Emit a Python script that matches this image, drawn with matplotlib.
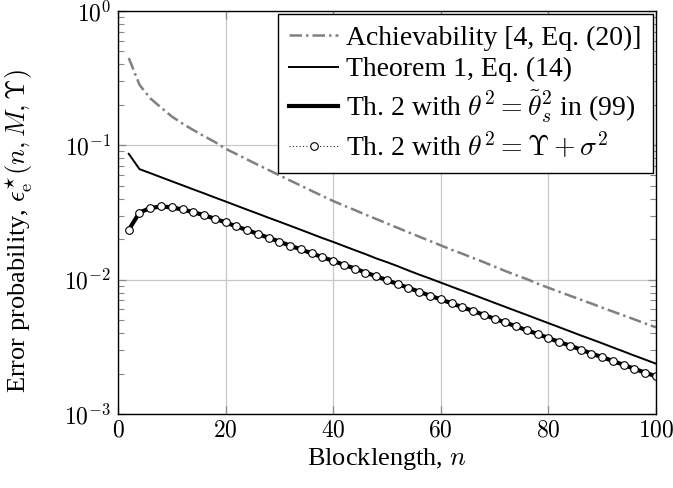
#!/usr/bin/env python3
# -*- coding: utf-8 -*-
"""Error probability vs. blocklength (log scale)."""

import math
import matplotlib
matplotlib.use("Agg")
import matplotlib.pyplot as plt
from matplotlib.ticker import FixedLocator, FuncFormatter, LogLocator, NullFormatter

plt.rcParams['font.family'] = ['Liberation Serif', 'DejaVu Serif']
plt.rcParams['mathtext.fontset'] = 'cm'

# blocklength n = 2, 4, ..., 100
n = [2, 4, 6, 8, 10, 12, 14, 16, 18, 20,
     22, 24, 26, 28, 30, 32, 34, 36, 38, 40,
     42, 44, 46, 48, 50, 52, 54, 56, 58, 60,
     62, 64, 66, 68, 70, 72, 74, 76, 78, 80,
     82, 84, 86, 88, 90, 92, 94, 96, 98, 100]

achievability = [0.447, 0.282, 0.224, 0.191, 0.164, 0.145, 0.130, 0.117, 0.106, 0.0944,
                 0.0861, 0.0785, 0.0716, 0.0655, 0.0598, 0.0547, 0.0501, 0.0458, 0.0420, 0.0385,
                 0.0356, 0.0330, 0.0305, 0.0283, 0.0262, 0.0243, 0.0225, 0.0209, 0.0194, 0.0180,
                 0.0167, 0.0156, 0.0145, 0.0135, 0.0125, 0.0116, 0.0108, 0.0101, 0.00935, 0.00871,
                 0.00813, 0.00760, 0.00710, 0.00664, 0.00619, 0.00579, 0.00541, 0.00506, 0.00472, 0.00442]

theorem1 = [0.0865, 0.0665, 0.0621, 0.0579, 0.0540, 0.0504, 0.0470, 0.0439, 0.0409, 0.0382,
            0.0356, 0.0332, 0.0310, 0.0289, 0.0270, 0.0252, 0.0235, 0.0219, 0.0204, 0.0191,
            0.0178, 0.0166, 0.0155, 0.0144, 0.0135, 0.0126, 0.0117, 0.0109, 0.0102, 0.00951,
            0.00887, 0.00828, 0.00773, 0.00721, 0.00672, 0.00627, 0.00585, 0.00546, 0.00509, 0.00475,
            0.00443, 0.00413, 0.00385, 0.00360, 0.00336, 0.00313, 0.00292, 0.00272, 0.00254, 0.00237]

th2_tilde = [0.0235, 0.0316, 0.0341, 0.0351, 0.0345, 0.0333, 0.0318, 0.0302, 0.0284, 0.0267,
             0.0249, 0.0234, 0.0219, 0.0205, 0.0192, 0.0179, 0.0168, 0.0157, 0.0147, 0.0138,
             0.0129, 0.0121, 0.0113, 0.0106, 0.00991, 0.00927, 0.00869, 0.00813, 0.00760, 0.00713,
             0.00667, 0.00624, 0.00585, 0.00547, 0.00512, 0.00480, 0.00449, 0.00420, 0.00394, 0.00368,
             0.00344, 0.00323, 0.00302, 0.00282, 0.00265, 0.00248, 0.00232, 0.00217, 0.00203, 0.00191]

th2_upsilon = [0.0235, 0.0316, 0.0341, 0.0351, 0.0345, 0.0333, 0.0318, 0.0302, 0.0284, 0.0267,
               0.0249, 0.0234, 0.0219, 0.0205, 0.0192, 0.0179, 0.0168, 0.0157, 0.0147, 0.0138,
               0.0129, 0.0121, 0.0113, 0.0106, 0.00991, 0.00927, 0.00869, 0.00813, 0.00760, 0.00713,
               0.00667, 0.00624, 0.00585, 0.00547, 0.00512, 0.00480, 0.00449, 0.00420, 0.00394, 0.00368,
               0.00344, 0.00323, 0.00302, 0.00282, 0.00265, 0.00248, 0.00232, 0.00217, 0.00203, 0.00191]

labels = [r'Achievability [4, Eq. (20)]',
          r'Theorem 1, Eq. (14)',
          r'Th. 2 with $\theta^2 = \tilde{\theta}_s^2$ in (99)',
          r'Th. 2 with $\theta^2 = \Upsilon + \sigma^2$']

x_ticks = [0, 20, 40, 60, 80, 100]

fig = plt.figure(figsize=(6.73, 4.88), dpi=100)
ax = fig.add_axes([0.1753, 0.1516, 0.7994, 0.8259])

ax.plot(n, achievability, color='#808080', lw=1.8, dashes=(5, 1.6, 1, 1.6), label=labels[0])
ax.plot(n, theorem1, color='black', lw=1.4, label=labels[1])
ax.plot(n, th2_tilde, color='black', lw=3.0, label=labels[2])
ax.plot(n, th2_upsilon, color='black', lw=0.7, ls=(0, (1, 2.5)), marker='o', ms=5.5,
        mfc='white', mec='black', mew=0.8, label=labels[3])

ax.set_yscale('log')
ax.set_xlim(0, 100)
ax.set_ylim(1e-3, 1e0)

ax.xaxis.set_major_locator(FixedLocator(x_ticks))
ax.xaxis.set_major_formatter(FuncFormatter(lambda v, p: r'$%d$' % v))
ax.yaxis.set_major_locator(LogLocator(base=10, numticks=10))
ax.yaxis.set_major_formatter(FuncFormatter(lambda v, p: r'$10^{%d}$' % round(math.log10(v))))
ax.yaxis.set_minor_locator(LogLocator(base=10, subs=range(2, 10), numticks=10))
ax.yaxis.set_minor_formatter(NullFormatter())

ax.grid(True, which='major', color='#c8c8c8', lw=0.9)
ax.set_axisbelow(True)
ax.tick_params(which='both', direction='in', top=True, right=True, labelsize=17, color='#888888')
ax.tick_params(which='major', length=6, width=0.9, pad=5)
ax.tick_params(which='minor', length=4, width=0.8)
for s in ax.spines.values():
    s.set_linewidth(1.0)

ax.set_xlabel(r'Blocklength, $n$', fontsize=19, labelpad=3)
ax.set_ylabel(r'Error probability, $\epsilon_{\mathrm{e}}^{\star}(n, M, \Upsilon)$', fontsize=19)
ax.yaxis.set_label_coords(-0.155, 0.455)

leg = ax.legend(loc='upper right', fontsize=20, frameon=True, fancybox=False,
                edgecolor='black', framealpha=1, handlelength=1.75, handletextpad=0.3,
                labelspacing=0.22, borderpad=0.42, borderaxespad=0.1)
leg.get_frame().set_linewidth(1.0)

plt.savefig('out.png', dpi=100)
plt.close()
